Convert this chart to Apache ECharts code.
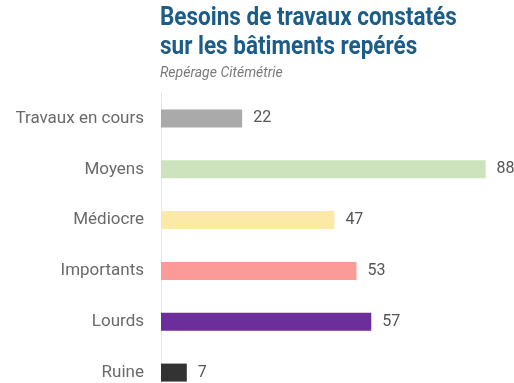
<!DOCTYPE html>
<html>
<head>
<meta charset="utf-8">
<script src="https://cdn.jsdelivr.net/npm/echarts@6/dist/echarts.min.js"></script>
<style>
  html, body { margin: 0; padding: 0; background: #fff; }
  #chart { width: 514px; height: 383px; }
</style>
</head>
<body>
<div id="chart"></div>
<script>
// Besoins de travaux par état du bâti
const categories = ['Travaux en cours', 'Moyens', 'Médiocre', 'Importants', 'Lourds', 'Ruine'];
const values = [22, 88, 47, 53, 57, 7];
const colors = ['#aaaaaa', '#cce3bd', '#fde9a6', '#fc9a98', '#6b2e9b', '#333333'];

const chart = echarts.init(document.getElementById('chart'), null, { renderer: 'canvas' });

chart.setOption({
  animation: false,
  backgroundColor: '#ffffff',
  graphic: [
    {
      type: 'text', left: 160, top: 6, scaleX: 0.9,
      style: { text: 'Besoins de travaux constatés', font: 'bold 25px Roboto', fill: '#1c5d87' }
    },
    {
      type: 'text', left: 160, top: 35, scaleX: 0.9,
      style: { text: 'sur les bâtiments repérés', font: 'bold 25px Roboto', fill: '#1c5d87' }
    },
    {
      type: 'text', left: 160, top: 66,
      style: { text: 'Repérage Citémétrie', font: 'italic 14px Roboto', fill: '#7a7a7a' }
    }
  ],
  grid: {
    left: 161, right: 21, top: 93, height: 305,
    containLabel: false, outerBoundsMode: 'none'
  },
  xAxis: {
    type: 'value', min: 0, max: 90,
    show: false
  },
  yAxis: {
    type: 'category',
    inverse: true,
    data: categories,
    axisLine: { show: true, lineStyle: { color: '#e6e6e6', width: 1 } },
    axisTick: { show: false },
    axisLabel: { color: '#6a6a6a', fontSize: 17, fontFamily: 'Roboto', margin: 17 }
  },
  series: [{
    type: 'bar',
    barWidth: 18,
    data: values.map((v, i) => ({ value: v, itemStyle: { color: colors[i] } })),
    label: {
      show: true, position: 'right', distance: 11,
      color: '#555555', fontSize: 16, fontFamily: 'Roboto'
    }
  }]
});
</script>
</body>
</html>
